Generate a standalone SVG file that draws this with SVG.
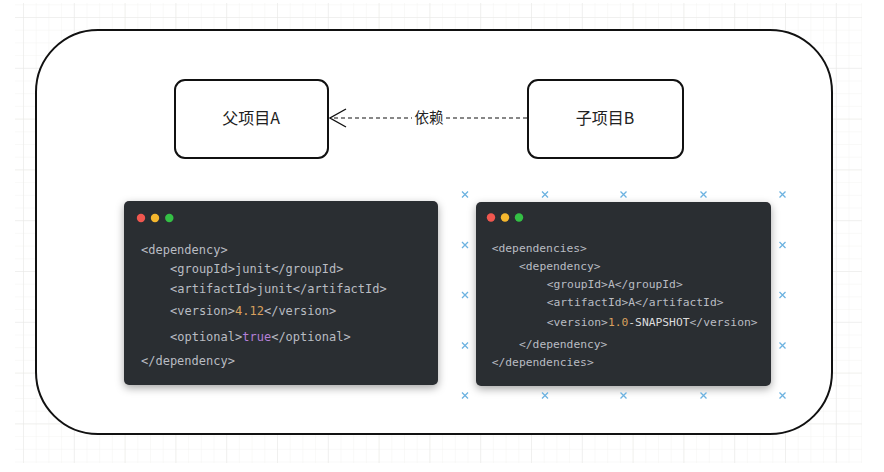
<svg xmlns="http://www.w3.org/2000/svg" width="884" height="472" viewBox="0 0 884 472">
  <style>
    .node { fill: #ffffff; stroke: #111111; stroke-width: 2; }
    .lbl { font-family: "Noto Sans CJK SC", "Noto Sans", sans-serif; font-size: 16px; fill: #222222; text-anchor: middle; }
    .edge-lbl { font-family: "Noto Sans CJK SC", "Noto Sans", sans-serif; font-size: 14.5px; fill: #222222; text-anchor: middle; }
    .panel { fill: #2b2d31; }
    .codeL { font-family: "DejaVu Sans Mono", "Liberation Mono", monospace; font-size: 12px; fill: #b9bcc2; white-space: pre; }
    .codeR { font-family: "DejaVu Sans Mono", "Liberation Mono", monospace; font-size: 11.3px; fill: #b9bcc2; white-space: pre; }
    .num { fill: #d8a05e; }
    .kw { fill: #b47fd6; }
    .plain { fill: #dcdcdc; }
    .mark { stroke: #6cb2e0; stroke-width: 1.3; fill: none; }
  </style>
  <defs>
    <pattern id="minor" x="23" y="17" width="12.7" height="12.7" patternUnits="userSpaceOnUse">
      <path d="M0 0 H12.7 M0 0 V12.7" stroke="#f3f3f1" stroke-width="1" fill="none"/>
    </pattern>
    <pattern id="major" x="23" y="17" width="50.8" height="50.8" patternUnits="userSpaceOnUse">
      <path d="M0 0 H50.8 M0 0 V50.8" stroke="#e8e8e5" stroke-width="1" fill="none"/>
    </pattern>
    <filter id="shadow" x="-10%" y="-10%" width="120%" height="130%">
      <feDropShadow dx="0" dy="3" stdDeviation="4" flood-color="#000000" flood-opacity="0.35"/>
    </filter>
    <marker id="openArrow" viewBox="0 0 20 20" refX="19" refY="10" markerWidth="20" markerHeight="20" markerUnits="userSpaceOnUse" orient="auto">
      <path d="M3 1 L19 10 L3 19" fill="none" stroke="#111111" stroke-width="1.4"/>
    </marker>
  </defs>

  <rect width="884" height="472" fill="#ffffff"/>
  <rect x="15" y="3" width="847" height="460" fill="url(#minor)"/>
  <rect x="15" y="3" width="847" height="460" fill="url(#major)"/>

  <g id="container">
    <rect x="36" y="30" width="796" height="404" rx="62" ry="62" fill="#ffffff" stroke="#111111" stroke-width="2"/>
  </g>

  <g id="nodeA">
    <rect class="node" x="175" y="80" width="153" height="78" rx="10" ry="10"/>
    <text class="lbl" x="251" y="124">父项目A</text>
  </g>

  <g id="nodeB">
    <rect class="node" x="528" y="80" width="155" height="78" rx="10" ry="10"/>
    <text class="lbl" x="605" y="124">子项目B</text>
  </g>

  <g id="connectors">
    <line x1="527" y1="118" x2="330" y2="118" stroke="#111111" stroke-width="1.2" stroke-dasharray="4 3" marker-end="url(#openArrow)"/>
    <rect x="412" y="108" width="34" height="20" fill="#ffffff"/>
    <text class="edge-lbl" x="429" y="123">依赖</text>
  </g>

  <g id="codeLeft">
    <rect class="panel" x="124" y="201" width="314" height="184" rx="5" ry="5" filter="url(#shadow)"/>
    <circle cx="141" cy="218" r="4.2" fill="#f0574f"/>
    <circle cx="155" cy="218" r="4.2" fill="#f5b72e"/>
    <circle cx="169.3" cy="218" r="4.2" fill="#34c045"/>
    <text class="codeL" x="141" y="254">&lt;dependency&gt;</text>
    <text class="codeL" x="170" y="273">&lt;groupId&gt;junit&lt;/groupId&gt;</text>
    <text class="codeL" x="170" y="293">&lt;artifactId&gt;junit&lt;/artifactId&gt;</text>
    <text class="codeL" x="170" y="315">&lt;version&gt;<tspan class="num">4.12</tspan>&lt;/version&gt;</text>
    <text class="codeL" x="170" y="341">&lt;optional&gt;<tspan class="kw">true</tspan>&lt;/optional&gt;</text>
    <text class="codeL" x="141" y="365">&lt;/dependency&gt;</text>
  </g>

  <g id="codeRight">
    <rect class="panel" x="476" y="202" width="295" height="184" rx="5" ry="5" filter="url(#shadow)"/>
    <circle cx="491" cy="217.5" r="4.2" fill="#f0574f"/>
    <circle cx="505" cy="217.5" r="4.2" fill="#f5b72e"/>
    <circle cx="519" cy="217.5" r="4.2" fill="#34c045"/>
    <text class="codeR" x="491.7" y="252">&lt;dependencies&gt;</text>
    <text class="codeR" x="519" y="270">&lt;dependency&gt;</text>
    <text class="codeR" x="546.7" y="288">&lt;groupId&gt;A&lt;/groupId&gt;</text>
    <text class="codeR" x="546.7" y="306">&lt;artifactId&gt;A&lt;/artifactId&gt;</text>
    <text class="codeR" x="546.7" y="326">&lt;version&gt;<tspan class="num">1.0</tspan><tspan class="plain">-SNAPSHOT</tspan>&lt;/version&gt;</text>
    <text class="codeR" x="519" y="348">&lt;/dependency&gt;</text>
    <text class="codeR" x="491.7" y="366">&lt;/dependencies&gt;</text>
  </g>

  <g id="selection">
    <defs>
      <path id="x" class="mark" d="M-3 -3 L3 3 M3 -3 L-3 3"/>
    </defs>
    <use href="#x" x="465" y="194.5"/>
    <use href="#x" x="545" y="194.5"/>
    <use href="#x" x="623.5" y="194.5"/>
    <use href="#x" x="703.5" y="194.5"/>
    <use href="#x" x="782.5" y="194.5"/>
    <use href="#x" x="465" y="245"/>
    <use href="#x" x="782.5" y="245"/>
    <use href="#x" x="465" y="295"/>
    <use href="#x" x="782.5" y="295"/>
    <use href="#x" x="465" y="345.5"/>
    <use href="#x" x="782.5" y="345.5"/>
    <use href="#x" x="465" y="395.5"/>
    <use href="#x" x="545" y="395.5"/>
    <use href="#x" x="623.5" y="395.5"/>
    <use href="#x" x="703.5" y="395.5"/>
    <use href="#x" x="782.5" y="395.5"/>
  </g>
</svg>
